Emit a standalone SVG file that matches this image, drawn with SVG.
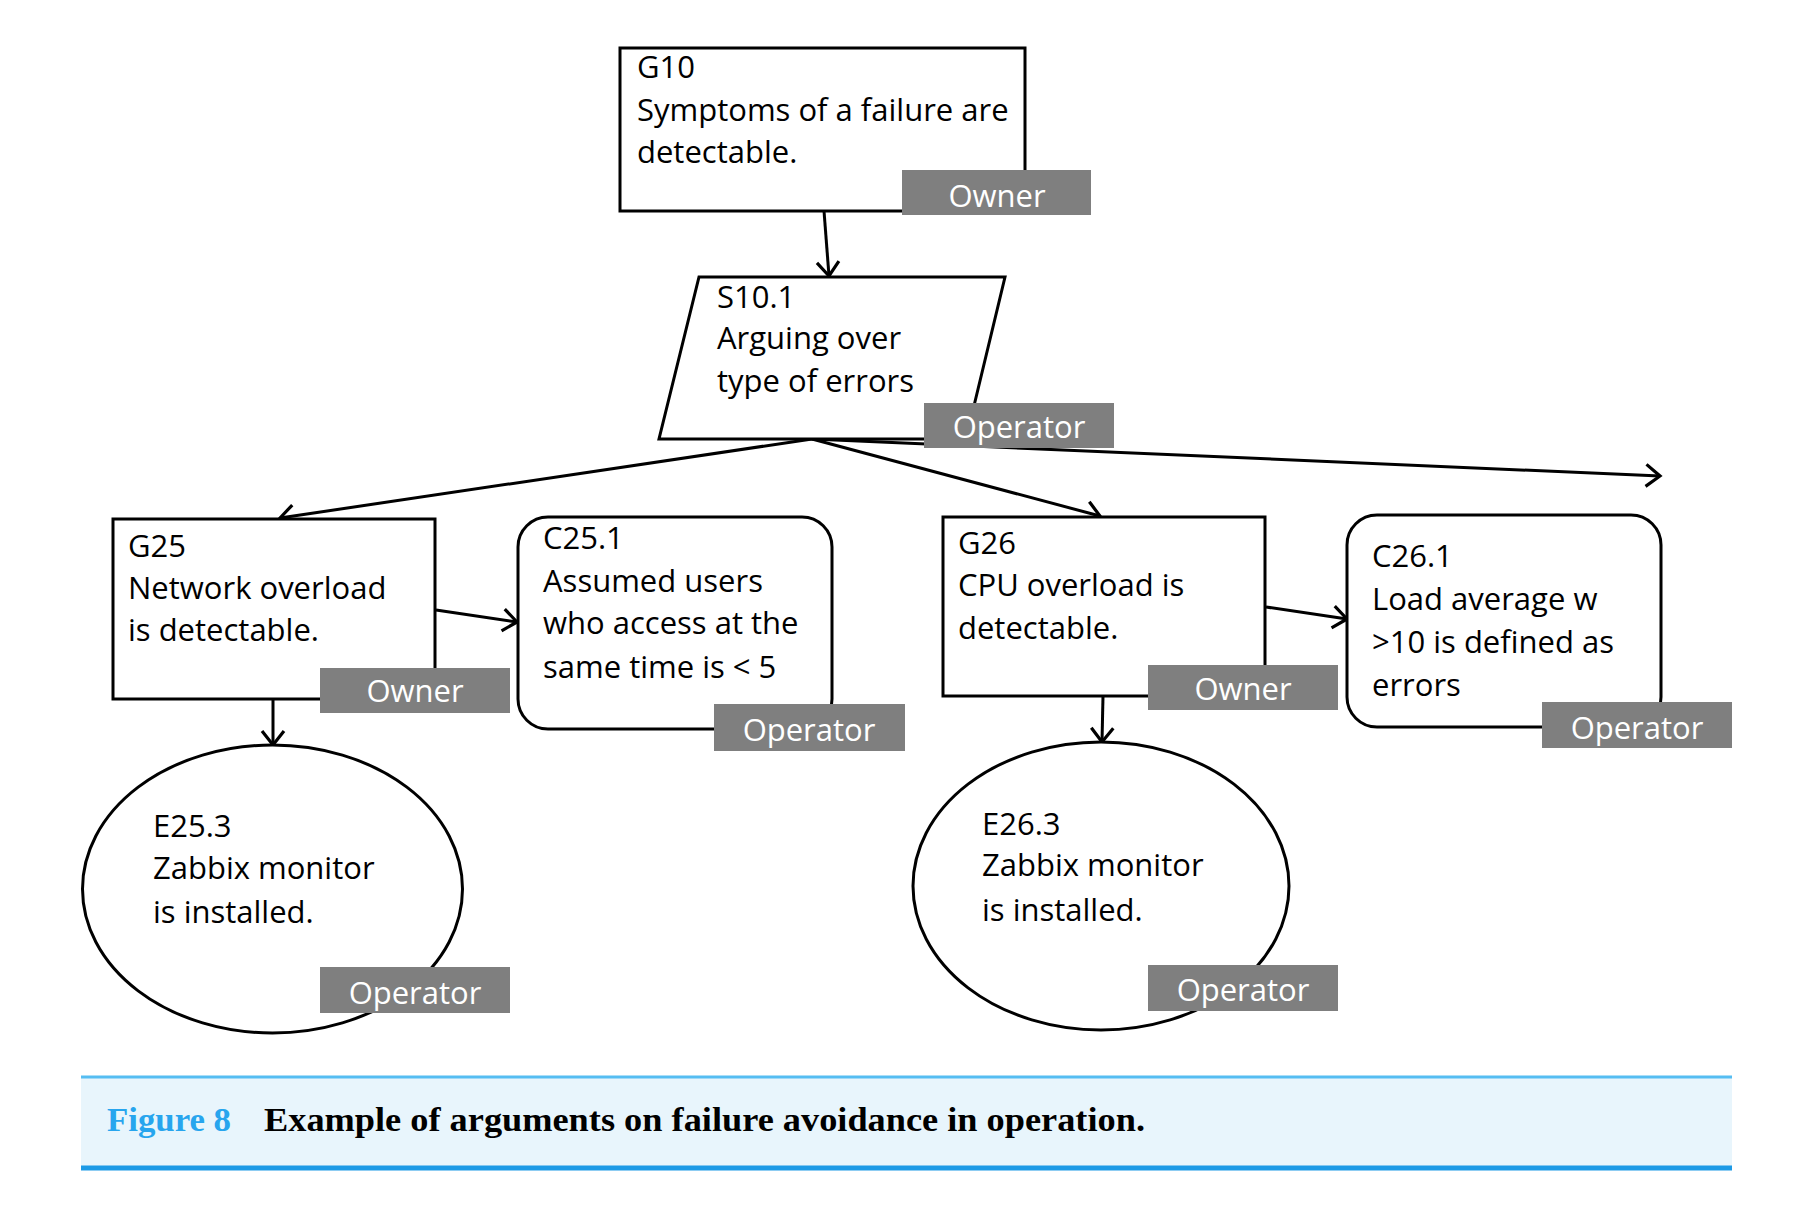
<svg xmlns="http://www.w3.org/2000/svg" width="1805" height="1214" viewBox="0 0 1805 1214">
<style>
.shape{fill:#fff;stroke:#000;stroke-width:3}
.t{font-family:"Open Sans","Noto Sans",sans-serif;font-size:31px;fill:#000}
.tag{fill:#7f7f7f}
.tt{font-family:"Open Sans","Noto Sans",sans-serif;font-size:31px;fill:#fff;text-anchor:middle}
.c{fill:none;stroke:#000;stroke-width:3}
</style>
<defs>
<marker id="arr" markerUnits="userSpaceOnUse" markerWidth="20" markerHeight="26" viewBox="0 0 20 26" refX="17" refY="13" orient="auto">
<path d="M3,2 L17,13 L3,24" fill="none" stroke="#000" stroke-width="3.2"/>
</marker>
</defs>
<rect width="1805" height="1214" fill="#fff"/>
<g id="connectors">
<line class="c" x1="824" y1="211" x2="829" y2="276" marker-end="url(#arr)"/>
<line class="c" x1="812" y1="439" x2="280" y2="518" marker-end="url(#arr)"/>
<line class="c" x1="812" y1="439" x2="1100" y2="516" marker-end="url(#arr)"/>
<line class="c" x1="812" y1="439" x2="1660" y2="476" marker-end="url(#arr)"/>
<line class="c" x1="436" y1="610" x2="517" y2="622" marker-end="url(#arr)"/>
<line class="c" x1="273" y1="699" x2="273" y2="745" marker-end="url(#arr)"/>
<line class="c" x1="1266" y1="607" x2="1347" y2="619" marker-end="url(#arr)"/>
<line class="c" x1="1103" y1="696" x2="1102" y2="742" marker-end="url(#arr)"/>
</g>
<g id="G10">
<rect class="shape" x="620" y="48" width="405" height="163"/>
<text class="t" x="637" y="78">G10</text>
<text class="t" x="637" y="121">Symptoms of a failure are</text>
<text class="t" x="637" y="163">detectable.</text>
<rect class="tag" x="902" y="170" width="189" height="45"/>
<text class="tt" x="997" y="207">Owner</text>
</g>
<g id="S10.1">
<polygon class="shape" points="699,277 1005,277 966,439 659,439"/>
<text class="t" x="717" y="308">S10.1</text>
<text class="t" x="717" y="349">Arguing over</text>
<text class="t" x="717" y="392">type of errors</text>
<rect class="tag" x="924" y="403" width="190" height="45"/>
<text class="tt" x="1019" y="438">Operator</text>
</g>
<g id="G25">
<rect class="shape" x="113" y="519" width="322" height="180"/>
<text class="t" x="128" y="557">G25</text>
<text class="t" x="128" y="599">Network overload</text>
<text class="t" x="128" y="641">is detectable.</text>
<rect class="tag" x="320" y="668" width="190" height="45"/>
<text class="tt" x="415" y="702">Owner</text>
</g>
<g id="C25.1">
<rect class="shape" x="518" y="517" width="314" height="212" rx="30" ry="30"/>
<text class="t" x="543" y="549">C25.1</text>
<text class="t" x="543" y="592">Assumed users</text>
<text class="t" x="543" y="634">who access at the</text>
<text class="t" x="543" y="678">same time is &lt; 5</text>
<rect class="tag" x="714" y="704" width="191" height="47"/>
<text class="tt" x="809" y="741">Operator</text>
</g>
<g id="E25.3">
<ellipse class="shape" cx="272.5" cy="889" rx="190" ry="144"/>
<text class="t" x="153" y="837">E25.3</text>
<text class="t" x="153" y="879">Zabbix monitor</text>
<text class="t" x="153" y="923">is installed.</text>
<rect class="tag" x="320" y="967" width="190" height="46"/>
<text class="tt" x="415" y="1004">Operator</text>
</g>
<g id="G26">
<rect class="shape" x="943" y="517" width="322" height="179"/>
<text class="t" x="958" y="554">G26</text>
<text class="t" x="958" y="596">CPU overload is</text>
<text class="t" x="958" y="639">detectable.</text>
<rect class="tag" x="1148" y="665" width="190" height="45"/>
<text class="tt" x="1243" y="700">Owner</text>
</g>
<g id="C26.1">
<rect class="shape" x="1347" y="515" width="314" height="212" rx="30" ry="30"/>
<text class="t" x="1372" y="567">C26.1</text>
<text class="t" x="1372" y="610">Load average w</text>
<text class="t" x="1372" y="653">&gt;10 is defined as</text>
<text class="t" x="1372" y="696">errors</text>
<rect class="tag" x="1542" y="702" width="190" height="46"/>
<text class="tt" x="1637" y="739">Operator</text>
</g>
<g id="E26.3">
<ellipse class="shape" cx="1101" cy="886" rx="188" ry="144"/>
<text class="t" x="982" y="835">E26.3</text>
<text class="t" x="982" y="876">Zabbix monitor</text>
<text class="t" x="982" y="921">is installed.</text>
<rect class="tag" x="1148" y="965" width="190" height="46"/>
<text class="tt" x="1243" y="1001">Operator</text>
</g>
<g id="caption">
<rect x="81" y="1076" width="1651" height="94" fill="#e8f5fc"/>
<line x1="81" y1="1077" x2="1732" y2="1077" stroke="#55bdf2" stroke-width="3"/>
<line x1="81" y1="1168" x2="1732" y2="1168" stroke="#1c9ae6" stroke-width="5"/>
<text x="107" y="1131" font-family="Liberation Serif,serif" font-weight="bold" font-size="34" fill="#27a5ee" textLength="124" lengthAdjust="spacingAndGlyphs">Figure 8</text>
<text x="264" y="1131" font-family="Liberation Serif,serif" font-weight="bold" font-size="34" fill="#000" textLength="881" lengthAdjust="spacingAndGlyphs">Example of arguments on failure avoidance in operation.</text>
</g>
</svg>
